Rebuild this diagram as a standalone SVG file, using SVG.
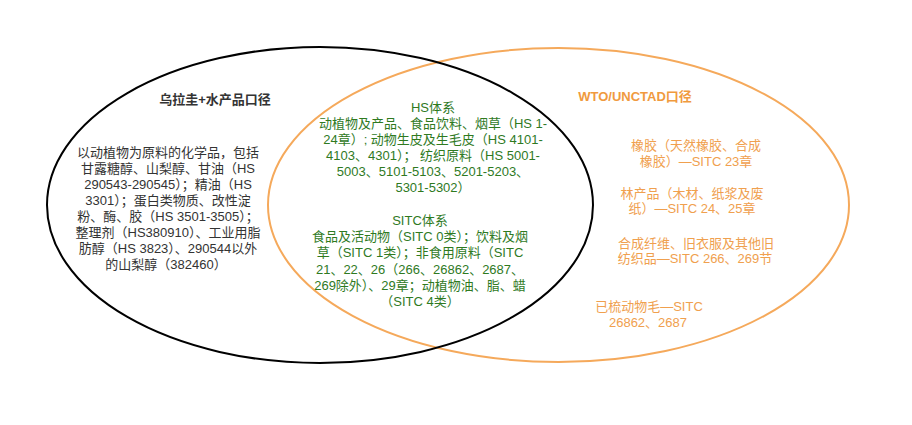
<svg xmlns="http://www.w3.org/2000/svg" width="912" height="425" viewBox="0 0 912 425">
<style>
text{font-family:"Liberation Sans","Noto Sans CJK SC",sans-serif;font-size:13px;text-anchor:middle}
.ring{fill:none;stroke-width:2}
.k{fill:#333333}
.g{fill:#2f7a1f}
.o{fill:#f0a04e}
.tk{fill:#333333;font-weight:bold}
.to{fill:#f09a3e;font-weight:bold}
</style>
<rect width="912" height="425" fill="#ffffff"/>
<g id="wto-set">
<ellipse class="ring" cx="558.5" cy="205" rx="290.5" ry="157" stroke="#f5a95b"/>
</g>
<g id="uruguay-set">
<ellipse class="ring" cx="320" cy="205" rx="273" ry="158" stroke="#000000"/>
</g>
<g id="uruguay-label">
<text class="tk" x="215" y="104">乌拉圭+水产品口径</text>
</g>
<g id="uruguay-only">
<text class="k" x="168" y="157">以动植物为原料的化学品，包括</text>
<text class="k" x="168" y="173">甘露糖醇、山梨醇、甘油（HS</text>
<text class="k" x="168" y="189">290543-290545）；精油（HS</text>
<text class="k" x="168" y="205">3301）；蛋白类物质、改性淀</text>
<text class="k" x="168" y="221">粉、酶、胶（HS 3501-3505）；</text>
<text class="k" x="168" y="237">整理剂（HS380910）、工业用脂</text>
<text class="k" x="168" y="253">肪醇（HS 3823）、290544以外</text>
<text class="k" x="166" y="269">的山梨醇（382460）</text>
</g>
<g id="overlap-hs">
<text class="g" x="433" y="112">HS体系</text>
<text class="g" x="433" y="128">动植物及产品、食品饮料、烟草（HS 1-</text>
<text class="g" x="433" y="144">24章）; 动物生皮及生毛皮（HS 4101-</text>
<text class="g" x="433" y="160">4103、4301）； 纺织原料（HS 5001-</text>
<text class="g" x="433" y="176">5003、5101-5103、5201-5203、</text>
<text class="g" x="433" y="192">5301-5302）</text>
</g>
<g id="overlap-sitc">
<text class="g" x="420" y="225">SITC体系</text>
<text class="g" x="420" y="241">食品及活动物（SITC 0类）；饮料及烟</text>
<text class="g" x="420" y="257">草（SITC 1类）；非食用原料（SITC</text>
<text class="g" x="420" y="274">21、22、26（266、26862、2687、</text>
<text class="g" x="420" y="290">269除外）、29章；动植物油、脂、蜡</text>
<text class="g" x="420" y="306">（SITC 4类）</text>
</g>
<g id="wto-label">
<text class="to" x="635" y="101">WTO/UNCTAD口径</text>
</g>
<g id="wto-only">
<text class="o" x="696" y="150">橡胶（天然橡胶、合成</text>
<text class="o" x="696" y="166">橡胶）—SITC 23章</text>
<text class="o" x="692" y="198">林产品（木材、纸浆及废</text>
<text class="o" x="692" y="213">纸）—SITC 24、25章</text>
<text class="o" x="696" y="248">合成纤维、旧衣服及其他旧</text>
<text class="o" x="695" y="263">纺织品—SITC 266、269节</text>
<text class="o" x="649" y="311">已梳动物毛—SITC</text>
<text class="o" x="648" y="327">26862、2687</text>
</g>
</svg>
